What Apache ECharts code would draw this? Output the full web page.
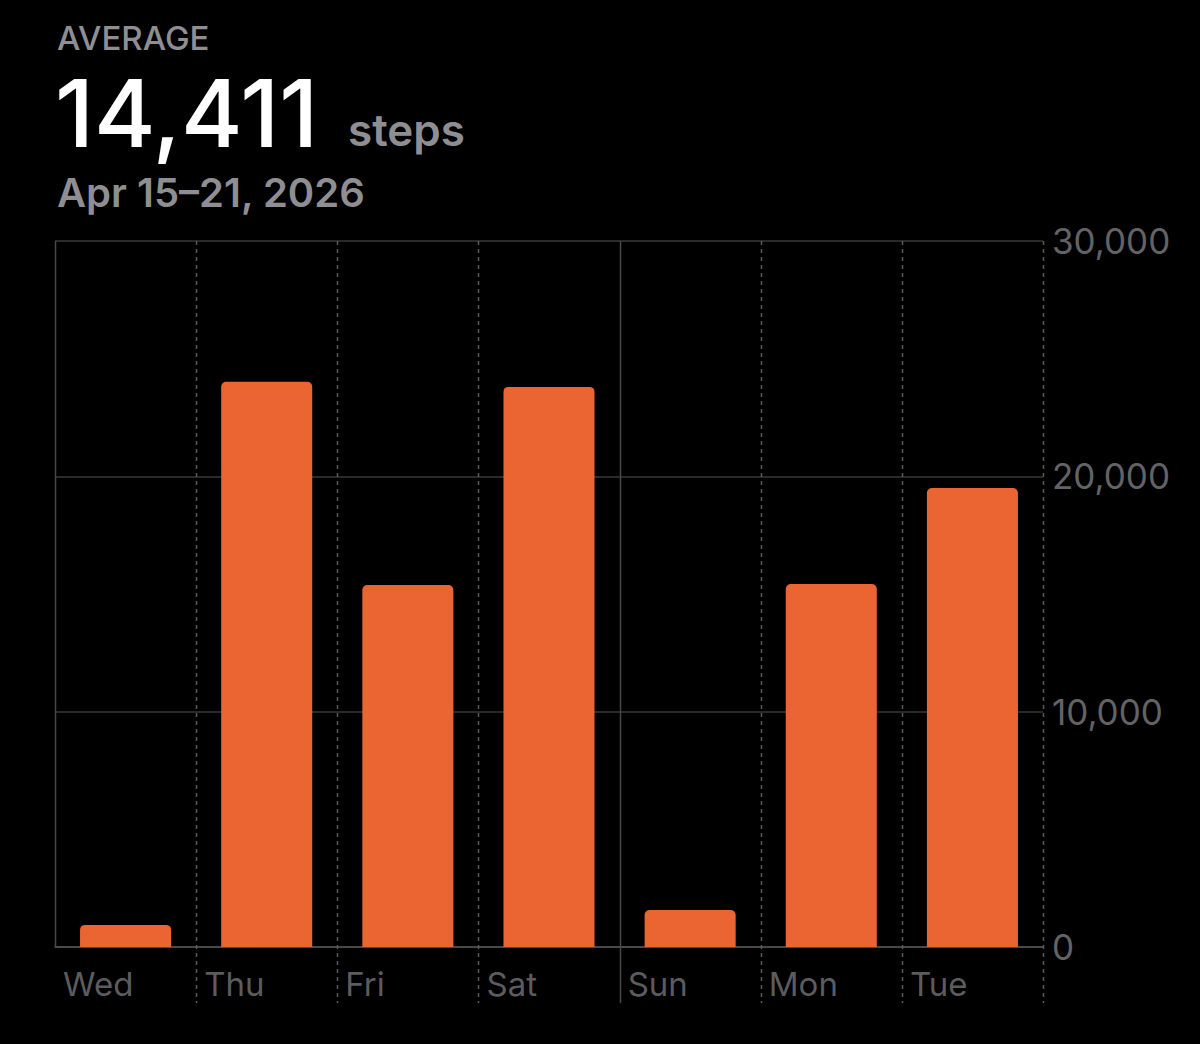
<!DOCTYPE html>
<html>
<head>
<meta charset="utf-8">
<script src="https://cdn.jsdelivr.net/npm/echarts@6/dist/echarts.min.js"></script>
<style>
html,body{margin:0;padding:0;background:#000;}
#chart{width:1200px;height:1044px;}
</style>
</head>
<body>
<div id="chart"></div>
<script>
// ---- data ----
const days = ['Wed', 'Thu', 'Fri', 'Sat', 'Sun', 'Mon', 'Tue'];
const steps = [940, 24020, 15380, 23800, 1570, 15420, 19500];
const yTicks = [0, 10000, 20000, 30000];
const averageLabel = '14,411';
const unitLabel = 'steps';
const headerLabel = 'AVERAGE';
const rangeLabel = 'Apr 15\u201321, 2026';

// divider style per category left edge ('edge' = plain solid inside plot, 'solid' = solid extended, 'dash' = dashed extended)
const dividerKinds = ['edge', 'dash', 'dash', 'dash', 'solid', 'dash', 'dash'];

const FONT = 'Inter, "Noto Sans", sans-serif';
const chart = echarts.init(document.getElementById('chart'), null, {renderer: 'svg'});

const fmt = v => v.toLocaleString('en-US');

chart.setOption({
  backgroundColor: '#000',
  animation: false,
  title: [
    {text: headerLabel, left: 57, top: 21, padding: 0,
     textStyle: {color: '#8e8e93', fontSize: 33, fontWeight: 500, fontFamily: FONT, lineHeight: 33}},
    {text: averageLabel, left: 55, top: 66, padding: 0,
     textStyle: {color: '#ffffff', fontSize: 94, fontWeight: 500, fontFamily: FONT, lineHeight: 94}},
    {text: unitLabel, left: 348, top: 108, padding: 0,
     textStyle: {color: '#8e8e93', fontSize: 44, fontWeight: 600, fontFamily: FONT, lineHeight: 44}},
    {text: rangeLabel, left: 57, top: 172, padding: 0,
     textStyle: {color: '#8e8e93', fontSize: 40, fontWeight: 600, fontFamily: FONT, lineHeight: 40}}
  ],
  grid: {left: 55, right: 157, top: 241, bottom: 97, containLabel: false},
  xAxis: {
    type: 'category',
    data: days,
    boundaryGap: true,
    axisLine: {show: true, lineStyle: {color: '#555558', width: 1.5}},
    axisTick: {show: false},
    splitLine: {show: false},
    axisLabel: {
      margin: 20,
      width: 125,
      align: 'center',
      overflow: 'none',
      formatter: '{a|{value}}',
      rich: {a: {align: 'left', color: '#5c5c5f', fontSize: 33, fontFamily: FONT, fontWeight: 400}}
    }
  },
  yAxis: {
    type: 'value',
    position: 'right',
    min: yTicks[0],
    max: yTicks[yTicks.length - 1],
    interval: yTicks[1] - yTicks[0],
    axisLine: {show: false},
    axisTick: {show: false},
    splitLine: {show: true, lineStyle: {color: '#38383a', width: 1.5}},
    axisLabel: {
      margin: 9,
      color: '#636366',
      fontSize: 35,
      fontFamily: FONT,
      formatter: v => fmt(v)
    }
  },
  series: [
    {
      type: 'custom',
      z: 1,
      silent: true,
      data: days.map((d, i) => [i, 0]),
      encode: {x: 0, y: 1},
      renderItem: function (params, api) {
        const i = api.value(0);
        const bw = api.size([1, 0])[0];
        const cx = api.coord([i, 0])[0];
        const yTop = api.coord([i, yTicks[yTicks.length - 1]])[1];
        const yBot = api.coord([i, 0])[1];
        const ext = 56;
        const children = [];
        const mk = (x, kind) => {
          const dashed = kind === 'dash';
          const y2 = kind === 'edge' ? yBot : yBot + ext;
          children.push({
            type: 'line',
            shape: {x1: Math.round(x) + 0.5, y1: yTop, x2: Math.round(x) + 0.5, y2: y2},
            style: {
              stroke: dashed ? '#5a5a5d' : '#48484a',
              lineWidth: 1.5,
              lineDash: dashed ? [4, 4] : null
            }
          });
        };
        mk(cx - bw / 2, dividerKinds[i]);
        if (i === days.length - 1) mk(cx + bw / 2, 'dash');
        return {type: 'group', children: children};
      }
    },
    {
      type: 'bar',
      data: steps,
      z: 3,
      barWidth: '64.5%',
      itemStyle: {color: '#eb6533', borderRadius: [5, 5, 0, 0]}
    }
  ]
});
</script>
</body>
</html>
